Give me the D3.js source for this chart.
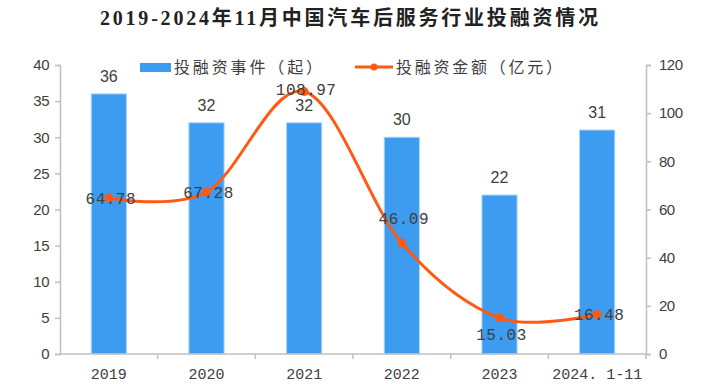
<!DOCTYPE html>
<html>
<head>
<meta charset="utf-8">
<script src="https://cdn.jsdelivr.net/npm/d3@7"></script>
<style>
  body { margin: 0; background: #fff; }
  svg { display: block; }
  .num { font-family: "Liberation Mono", "DejaVu Sans Mono", monospace; fill: #404040; }
  .sans { font-family: "Liberation Sans", Arial, sans-serif; fill: #404040; }
</style>
</head>
<body>
<div class="root"></div>
<script>
var categories = ['2019', '2020', '2021', '2022', '2023', '2024.1-11'];
var events = [36, 32, 32, 30, 22, 31];
var amounts = [64.78, 67.28, 108.97, 46.09, 15.03, 16.48];
var leftTicks = [0, 5, 10, 15, 20, 25, 30, 35, 40];
var rightTicks = [0, 20, 40, 60, 80, 100, 120];
// where each amount label sits relative to its point
var amountLabelPos = ['mid', 'mid', 'peak', 'up', 'down', 'mid'];

function runChart() {
  var w = 702, h = 384;
  var plotLeft = 60, plotRight = 646, plotTop = 65, plotBottom = 354;
  var blue = '#3d9bf0', orange = '#ff5a14', axisColor = '#bfbfbf';

  var svg = d3.select('.root').append('svg')
    .attr('width', w)
    .attr('height', h);

  var x = d3.scaleBand().domain(categories).range([plotLeft, plotRight]).paddingInner(0.64).paddingOuter(0.32);
  var xOuter = d3.scaleBand().domain(categories).range([plotLeft, plotRight]);
  var y = d3.scaleLinear().domain([0, 40]).range([plotBottom, plotTop]);
  var y2 = d3.scaleLinear().domain([0, 120]).range([plotBottom, plotTop]);

  svg.append('text')
    .attr('x', 100)
    .attr('y', 25)
    .attr('textLength', 498)
    .attr('lengthAdjust', 'spacing')
    .style('font-family', '"Liberation Serif", "Noto Sans CJK SC", serif')
    .style('font-weight', 'bold')
    .style('font-size', '20px')
    .style('fill', '#222')
    .text('2019-2024年11月中国汽车后服务行业投融资情况');

  // legend
  var legend = svg.append('g').style('font-family', '"Noto Sans CJK SC", sans-serif').style('font-size', '16px');
  legend.append('rect').attr('x', 140).attr('y', 63).attr('width', 31).attr('height', 9).attr('fill', blue);
  legend.append('text').attr('x', 174).attr('y', 73).attr('fill', '#404040')
    .attr('textLength', 148).attr('lengthAdjust', 'spacing').text('投融资事件（起）');
  legend.append('line').attr('x1', 355).attr('x2', 393).attr('y1', 67).attr('y2', 67)
    .attr('stroke', orange).attr('stroke-width', 3);
  legend.append('circle').attr('cx', 374).attr('cy', 67).attr('r', 3.5).attr('fill', orange);
  legend.append('text').attr('x', 396).attr('y', 73).attr('fill', '#404040')
    .attr('textLength', 166).attr('lengthAdjust', 'spacing').text('投融资金额（亿元）');

  // axes
  var leftAxis = svg.append('g')
    .attr('transform', 'translate(' + plotLeft + ',0)')
    .call(d3.axisLeft(y).tickValues(leftTicks).tickSize(5).tickPadding(6));
  var rightAxis = svg.append('g')
    .attr('transform', 'translate(' + plotRight + ',0)')
    .call(d3.axisRight(y2).tickValues(rightTicks).tickSize(5).tickPadding(8));
  [leftAxis, rightAxis].forEach(function(a) {
    a.select('.domain').attr('stroke', axisColor).attr('stroke-width', 1.5);
    a.selectAll('.tick line').attr('stroke', axisColor).attr('stroke-width', 1.5);
    a.selectAll('.tick text').attr('class', 'sans').style('font-size', '15px')
      .style('letter-spacing', '-0.5px').attr('fill', '#404040');
  });

  // bars
  svg.append('g').selectAll('rect')
    .data(events)
    .enter().append('rect')
      .attr('x', function(d, i) { return x(categories[i]); })
      .attr('y', function(d) { return y(d); })
      .attr('width', x.bandwidth())
      .attr('height', function(d) { return plotBottom - y(d); })
      .attr('fill', blue)
      .attr('stroke', '#a8d3fa')
      .attr('stroke-width', 1);

  svg.append('g').selectAll('text')
    .data(events)
    .enter().append('text')
      .attr('class', 'sans')
      .attr('x', function(d, i) { return x(categories[i]) + x.bandwidth() / 2; })
      .attr('y', function(d) { return y(d) - 12; })
      .attr('text-anchor', 'middle')
      .style('font-size', '16px')
      .text(function(d) { return d; });

  // x axis line + ticks between categories
  var xAxis = svg.append('g');
  xAxis.append('line').attr('x1', plotLeft).attr('x2', plotRight).attr('y1', plotBottom).attr('y2', plotBottom)
    .attr('stroke', axisColor).attr('stroke-width', 1.5);
  xAxis.selectAll('.xt')
    .data(categories)
    .enter().append('line')
      .attr('x1', function(d) { return xOuter(d) + xOuter.bandwidth(); })
      .attr('x2', function(d) { return xOuter(d) + xOuter.bandwidth(); })
      .attr('y1', plotBottom).attr('y2', plotBottom + 5)
      .attr('stroke', axisColor).attr('stroke-width', 1.5);
  xAxis.selectAll('text')
    .data(categories)
    .enter().append('text')
      .attr('class', 'num')
      .attr('x', function(d) { return xOuter(d) + xOuter.bandwidth() / 2; })
      .attr('y', 379)
      .attr('text-anchor', 'middle')
      .style('font-size', '15px')
      .text(function(d) { return d.replace('.', '. '); });

  // line
  var line = d3.line()
    .x(function(d, i) { return x(categories[i]) + x.bandwidth() / 2; })
    .y(function(d) { return y2(d); })
    .curve(d3.curveCardinal.tension(0));

  svg.append('path')
    .datum(amounts)
    .attr('d', line)
    .attr('fill', 'none')
    .attr('stroke', orange)
    .attr('stroke-width', 3);

  svg.append('g').selectAll('circle')
    .data(amounts)
    .enter().append('circle')
      .attr('cx', function(d, i) { return x(categories[i]) + x.bandwidth() / 2; })
      .attr('cy', function(d) { return y2(d); })
      .attr('r', 4.5)
      .attr('fill', orange);

  var offsets = {mid: 6, peak: 3, up: -19, down: 22};
  svg.append('g').selectAll('text')
    .data(amounts)
    .enter().append('text')
      .attr('class', 'num')
      .attr('x', function(d, i) { return x(categories[i]) + x.bandwidth() / 2 + 2; })
      .attr('y', function(d, i) { return y2(d) + offsets[amountLabelPos[i]]; })
      .attr('text-anchor', 'middle')
      .style('font-size', '16px')
      .style('letter-spacing', '0.5px')
      .text(function(d) { return d.toFixed(2); });
}

runChart();
</script>
</body>
</html>
